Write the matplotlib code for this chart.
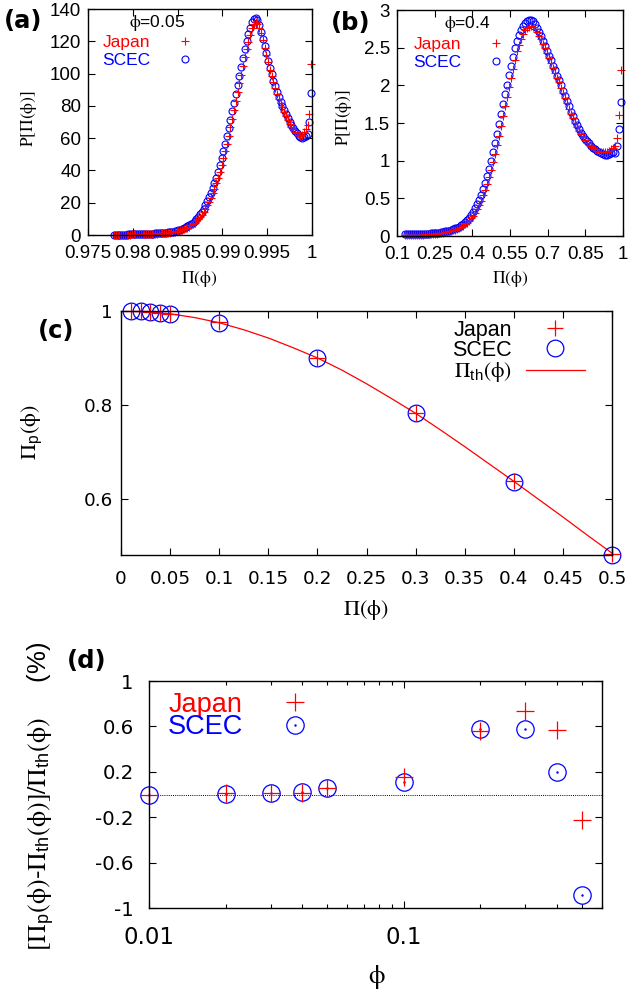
import numpy as np
import matplotlib
matplotlib.use('Agg')
import matplotlib.pyplot as plt
from matplotlib.ticker import LogLocator, NullFormatter

plt.rcParams['font.family'] = ['Liberation Sans', 'DejaVu Sans']
plt.rcParams['mathtext.fontset'] = 'custom'
plt.rcParams['mathtext.rm'] = 'STIXGeneral'
plt.rcParams['mathtext.it'] = 'STIXGeneral:italic'
plt.rcParams['mathtext.bf'] = 'STIXGeneral:bold'
plt.rcParams['mathtext.sf'] = 'Liberation Sans'

W, H = 632, 996
fig = plt.figure(figsize=(W / 100, H / 100), dpi=100)


def box(l, t, r, b):
    return [l / W, 1 - b / H, (r - l) / W, (b - t) / H]


def fxy(px, py):
    return px / W, 1 - py / H

# ---------------- data ----------------
# (a) phi = 0.05 : histogram of Pi(phi), bins of width a_x_step
a_x_start = 0.9779
a_x_step = 0.0002
a_scec = [0.2, 0.2, 0.2, 0.25, 0.25, 0.3, 0.3, 0.3, 0.35, 0.35,
          0.4, 0.4, 0.45, 0.5, 0.5, 0.55, 0.6, 0.65, 0.7, 0.75,
          0.8, 0.85, 0.9, 0.95, 1.0, 1.1, 1.2, 1.3, 1.4, 1.5,
          1.6, 1.75, 1.9, 2.1, 2.3, 2.6,
          2.9, 3.2, 3.6, 4.1, 4.7, 5.3, 6.0, 6.8, 7.7, 8.8,
          10.0, 11.3, 12.8, 14.5, 16.4, 18.5, 20.8, 23.3, 26.0, 29.0,
          32.2, 35.6, 39.3, 43.2, 47.4, 51.8, 56.4, 61.2, 66.2, 71.3,
          76.6, 82.0, 87.5, 93.0, 98.6, 104.2, 109.7, 115.0, 120.0, 124.5,
          128.5, 132.0, 134.0, 134.5, 133.0, 130.0, 126.0, 121.5, 117.0, 112.5,
          108.0, 103.5, 99.5, 95.5, 92.0, 88.5, 85.5, 82.5, 80.0, 77.5,
          75.0, 72.5, 70.0, 68.0, 66.0, 64.5, 63.0, 61.5, 60.5, 60.0,
          60.5, 61.5, 62.5, 70.0, 88.0]
a_japan = [0.15, 0.15, 0.15, 0.2, 0.2, 0.25, 0.25, 0.25, 0.3, 0.3,
           0.35, 0.35, 0.4, 0.4, 0.45, 0.5, 0.5, 0.55, 0.6, 0.65,
           0.7, 0.75, 0.8, 0.85, 0.9, 0.95, 1.05, 1.1, 1.2, 1.3,
           1.4, 1.5, 1.65, 1.8, 2.0, 2.3,
           2.6, 2.9, 3.2, 3.6, 4.1, 4.6, 5.2, 5.9, 6.7, 7.6,
           8.6, 9.8, 11.1, 12.6, 14.3, 16.2, 18.3, 20.6, 23.1, 25.8,
           28.8, 32.0, 35.5, 39.2, 43.2, 47.4, 51.9, 56.6, 61.5, 66.6,
           71.9, 77.3, 82.8, 88.3, 93.9, 99.4, 104.8, 110.0, 115.0, 119.5,
           124.0, 128.0, 131.0, 132.0, 131.0, 128.5, 125.0, 120.5, 116.0, 111.5,
           107.0, 102.5, 98.5, 94.5, 91.0, 87.5, 84.5, 81.5, 79.0, 76.5,
           74.0, 71.5, 69.0, 67.0, 65.5, 64.0, 63.0, 62.0, 61.5, 62.0,
           63.5, 65.5, 68.0, 75.0, 106.0]

# (b) phi = 0.4
b_x_start = 0.130
b_x_step = 0.008
b_scec = [0.02, 0.02, 0.02, 0.02, 0.02, 0.02, 0.02, 0.025, 0.025, 0.025,
          0.03, 0.03, 0.03, 0.035, 0.035, 0.04, 0.04, 0.045, 0.05, 0.055,
          0.06, 0.065, 0.07, 0.08, 0.09, 0.10, 0.11, 0.125, 0.14, 0.16,
          0.18, 0.21, 0.24, 0.28, 0.32, 0.37, 0.42, 0.48, 0.55, 0.62,
          0.70, 0.79, 0.89, 1.00, 1.11, 1.23, 1.36, 1.49, 1.62, 1.75,
          1.88, 2.01, 2.14, 2.26, 2.38, 2.49, 2.59, 2.67, 2.74, 2.79,
          2.83, 2.855, 2.87, 2.87, 2.85, 2.81, 2.76, 2.71, 2.65, 2.59,
          2.52, 2.46, 2.39, 2.33, 2.26, 2.20, 2.13, 2.07, 2.00, 1.93,
          1.86, 1.79, 1.72, 1.65, 1.59, 1.53, 1.47, 1.42, 1.37, 1.33,
          1.29, 1.26, 1.23, 1.20, 1.17, 1.15, 1.13, 1.11, 1.10, 1.09,
          1.08, 1.08, 1.09, 1.10, 1.12, 1.10, 1.20, 1.42, 1.78]
b_japan = [0.01, 0.01, 0.01, 0.01, 0.01, 0.01, 0.01, 0.015, 0.015, 0.015,
           0.02, 0.02, 0.02, 0.025, 0.025, 0.03, 0.03, 0.035, 0.04, 0.045,
           0.05, 0.055, 0.06, 0.065, 0.075, 0.085, 0.095, 0.105, 0.12, 0.135,
           0.155, 0.175, 0.20, 0.235, 0.27, 0.31, 0.36, 0.41, 0.47, 0.54,
           0.61, 0.69, 0.78, 0.88, 0.98, 1.09, 1.21, 1.33, 1.46, 1.59,
           1.72, 1.85, 1.98, 2.10, 2.22, 2.34, 2.45, 2.54, 2.62, 2.68,
           2.73, 2.76, 2.78, 2.79, 2.78, 2.75, 2.71, 2.66, 2.61, 2.55,
           2.49, 2.43, 2.36, 2.30, 2.23, 2.17, 2.10, 2.04, 1.97, 1.90,
           1.83, 1.76, 1.69, 1.62, 1.56, 1.50, 1.45, 1.40, 1.35, 1.31,
           1.27, 1.24, 1.21, 1.19, 1.17, 1.15, 1.13, 1.12, 1.11, 1.11,
           1.11, 1.12, 1.13, 1.15, 1.17, 1.20, 1.30, 1.61, 2.20]

# (c) peak position vs phi
phi = [0.01, 0.02, 0.03, 0.04, 0.05, 0.1, 0.2, 0.3, 0.4, 0.5]
c_japan = [0.9998, 0.9990, 0.9977, 0.9960, 0.9940, 0.9755, 0.9005, 0.7826, 0.6376, 0.4829]
c_scec = [0.9998, 0.9990, 0.9977, 0.9960, 0.9940, 0.9751, 0.9007, 0.7826, 0.6366, 0.4797]
th_phi = [0.0, 0.025, 0.05, 0.075, 0.1, 0.125, 0.15, 0.175, 0.2, 0.225, 0.25,
          0.275, 0.3, 0.325, 0.35, 0.375, 0.4, 0.425, 0.45, 0.475, 0.5]
th_pi = [1.0, 0.9985, 0.994, 0.986, 0.975, 0.960, 0.9425, 0.922, 0.900, 0.874, 0.845,
         0.814, 0.782, 0.747, 0.711, 0.674, 0.637, 0.599, 0.561, 0.522, 0.484]

# (d) relative deviation (%)
d_japan = [0.0, 0.013, 0.016, 0.016, 0.054, 0.154, 0.56, 0.735, 0.565, -0.228]
d_scec = [0.0, 0.007, 0.013, 0.022, 0.054, 0.11, 0.577, 0.574, 0.198, -0.883]

# ---------------- helpers ----------------
PHI = r'\mathrm{\phi}'
SERIF = ['STIXGeneral', 'DejaVu Serif']
BOLD = ['DejaVu Sans']
WIDE = ['DejaVu Sans']


def style(ax, fs, padx, pady, family=None):
    for s in ax.spines.values():
        s.set_linewidth(1.0)
    ax.tick_params(which='both', direction='in', top=True, right=True,
                   width=0.8, labelsize=fs)
    ax.tick_params(which='major', length=5)
    ax.tick_params(which='minor', length=3)
    ax.tick_params(axis='x', pad=padx)
    ax.tick_params(axis='y', pad=pady)
    if family is not None:
        for t in ax.get_xticklabels() + ax.get_yticklabels():
            t.set_family(family)


def color_legend(leg, colors):
    for t, c in zip(leg.get_texts(), colors):
        t.set_color(c)

# ---------------- panel (a) ----------------
axa = fig.add_axes(box(88, 9, 312, 235))
xa = a_x_start + a_x_step * np.arange(len(a_scec))
sa, = axa.plot(xa, a_scec, ls='none', marker='o', mfc='none', mec='blue',
               ms=5, mew=0.8, clip_on=False)
ja, = axa.plot(xa, a_japan, ls='none', marker='+', color='red',
               ms=5.5, mew=0.8, clip_on=False)
axa.set_xlim(0.975, 1.0)
axa.set_ylim(0, 140)
axa.set_xticks([0.975, 0.98, 0.985, 0.99, 0.995, 1.0])
axa.set_xticklabels(['0.975', '0.98', '0.985', '0.99', '0.995', '1'])
axa.set_yticks(np.arange(0, 141, 20))
style(axa, 13.5, 7, 5)
leg = axa.legend([ja, sa], ['Japan', 'SCEC'], loc='upper right',
                 bbox_to_anchor=(0.511, 0.884), markerfirst=False, frameon=False,
                 fontsize=12.5, handlelength=2, handletextpad=1.0, borderpad=0,
                 borderaxespad=0, labelspacing=0.12)
color_legend(leg, ['red', 'blue'])
axa.text(0.31, 0.94, r'$' + PHI + r'$=0.05', transform=axa.transAxes, ha='center',
         va='center', fontsize=12.5)
fig.text(*fxy(29, 119), r'P[$\Pi(' + PHI + r')$]', rotation=90, ha='center',
         va='center', fontsize=12.5, family=SERIF)
fig.text(*fxy(199, 279), r'$\Pi(' + PHI + r')$', ha='center', va='center', fontsize=12.5)
fig.text(*fxy(23, 21), '(a)', ha='center', va='center', fontsize=17.5,
         fontweight='bold', family=BOLD)

# ---------------- panel (b) ----------------
axb = fig.add_axes(box(397, 10, 623, 236))
xb = b_x_start + b_x_step * np.arange(len(b_scec))
sb, = axb.plot(xb, b_scec, ls='none', marker='o', mfc='none', mec='blue',
               ms=5, mew=0.8, clip_on=False)
jb, = axb.plot(xb, b_japan, ls='none', marker='+', color='red',
               ms=5.5, mew=0.8, clip_on=False)
axb.set_xlim(0.1, 1.0)
axb.set_ylim(0, 3)
axb.set_xticks([0.1, 0.25, 0.4, 0.55, 0.7, 0.85, 1.0])
axb.set_xticklabels(['0.1', '0.25', '0.4', '0.55', '0.7', '0.85', '1'])
axb.set_yticks([0, 0.5, 1, 1.5, 2, 2.5, 3])
axb.set_yticklabels(['0', '0.5', '1', '1.5', '2', '2.5', '3'])
style(axb, 13.5, 7, 5)
leg = axb.legend([jb, sb], ['Japan', 'SCEC'], loc='upper right',
                 bbox_to_anchor=(0.515, 0.879), markerfirst=False, frameon=False,
                 fontsize=12.5, handlelength=2, handletextpad=1.0, borderpad=0,
                 borderaxespad=0, labelspacing=0.12)
color_legend(leg, ['red', 'blue'])
axb.text(0.31, 0.94, r'$' + PHI + r'$=0.4', transform=axb.transAxes, ha='center',
         va='center', fontsize=12.5)
fig.text(*fxy(344, 118), r'P[$\Pi(' + PHI + r')$]', rotation=90, ha='center',
         va='center', fontsize=12.5, family=SERIF)
fig.text(*fxy(510, 279), r'$\Pi(' + PHI + r')$', ha='center', va='center', fontsize=12.5)
fig.text(*fxy(351, 23), '(b)', ha='center', va='center', fontsize=17.5,
         fontweight='bold', family=BOLD)

# ---------------- panel (c) ----------------
axc = fig.add_axes(box(121, 311, 612, 555))
lt, = axc.plot(th_phi, th_pi, color='red', lw=0.9)
sc, = axc.plot(phi, c_scec, ls='none', marker='o', mfc='none', mec='blue',
               ms=12, mew=0.9, clip_on=False)
jc, = axc.plot(phi, c_japan, ls='none', marker='+', color='red',
               ms=12, mew=0.9, clip_on=False)
axc.set_xlim(0, 0.5)
axc.set_ylim(0.48, 1.0)
axc.set_xticks(np.round(np.arange(0, 0.501, 0.05), 2))
axc.set_xticklabels(['0', '0.05', '0.1', '0.15', '0.2', '0.25', '0.3', '0.35',
                     '0.4', '0.45', '0.5'])
axc.set_yticks([0.6, 0.8, 1.0])
axc.set_yticklabels(['0.6', '0.8', '1'])
style(axc, 13.2, 11, 6, family=WIDE)
leg = axc.legend([jc, sc, lt], ['Japan', 'SCEC', r'$\Pi_{\mathsf{th}}(' + PHI + r')$'],
                 loc='upper right', bbox_to_anchor=(0.945, 0.965), markerfirst=False,
                 frameon=False, fontsize=15.5, handlelength=2.75, handletextpad=0.65,
                 borderpad=0, borderaxespad=0, labelspacing=-0.03)
fig.text(*fxy(32, 432), r'$\Pi_{\mathsf{p}}(' + PHI + r')$', rotation=90, ha='center',
         va='center', fontsize=16)
fig.text(*fxy(366, 610), r'$\Pi(' + PHI + r')$', ha='center', va='center', fontsize=16)
fig.text(*fxy(56, 331), '(c)', ha='center', va='center', fontsize=17.5,
         fontweight='bold', family=BOLD)

# ---------------- panel (d) ----------------
axd = fig.add_axes(box(149, 681, 602, 908))
axd.axhline(0, color='black', ls=(0, (1, 1.2)), lw=0.7)
sd, = axd.plot(phi, d_scec, ls='none', marker='o', mfc='none', mec='blue',
               ms=12.5, mew=0.9, clip_on=False)
sdd, = axd.plot(phi, d_scec, ls='none', marker='.', color='blue', ms=1.5,
                clip_on=False)
jd, = axd.plot(phi, d_japan, ls='none', marker='+', color='red',
               ms=12.5, mew=0.9, clip_on=False)
axd.set_xscale('log')
axd.set_xlim(0.01, 0.6)
axd.set_ylim(-1, 1)
axd.set_xticks([0.01, 0.1])
axd.set_xticklabels(['0.01', '0.1'])
axd.xaxis.set_minor_locator(LogLocator(base=10, subs=np.arange(2, 10)))
axd.xaxis.set_minor_formatter(NullFormatter())
axd.set_yticks([-1, -0.6, -0.2, 0.2, 0.6, 1])
axd.set_yticklabels(['-1', '-0.6', '-0.2', '0.2', '0.6', '1'])
style(axd, 14.2, 13, 11, family=WIDE)
axd.tick_params(axis='x', labelsize=16.5)
leg = axd.legend([jd, (sd, sdd)], ['Japan', 'SCEC'], loc='upper right',
                 bbox_to_anchor=(0.382, 0.953), markerfirst=False, frameon=False,
                 fontsize=19.5, handlelength=2, handletextpad=0.93, borderpad=0,
                 borderaxespad=0, labelspacing=-0.12)
color_legend(leg, ['red', 'blue'])
fig.text(*fxy(41, 796),
         r'$[\Pi_{\mathsf{p}}(' + PHI + r')$-$\Pi_{\mathsf{th}}(' + PHI +
         r')]/\Pi_{\mathsf{th}}(' + PHI + r')$     (%)',
         rotation=90, ha='center', va='center', fontsize=18.5)
fig.text(*fxy(377, 977), r'$' + PHI + r'$', ha='center', va='center', fontsize=19)
fig.text(*fxy(87, 661), '(d)', ha='center', va='center', fontsize=17.5,
         fontweight='bold', family=BOLD)

fig.savefig('out.png', dpi=100)
